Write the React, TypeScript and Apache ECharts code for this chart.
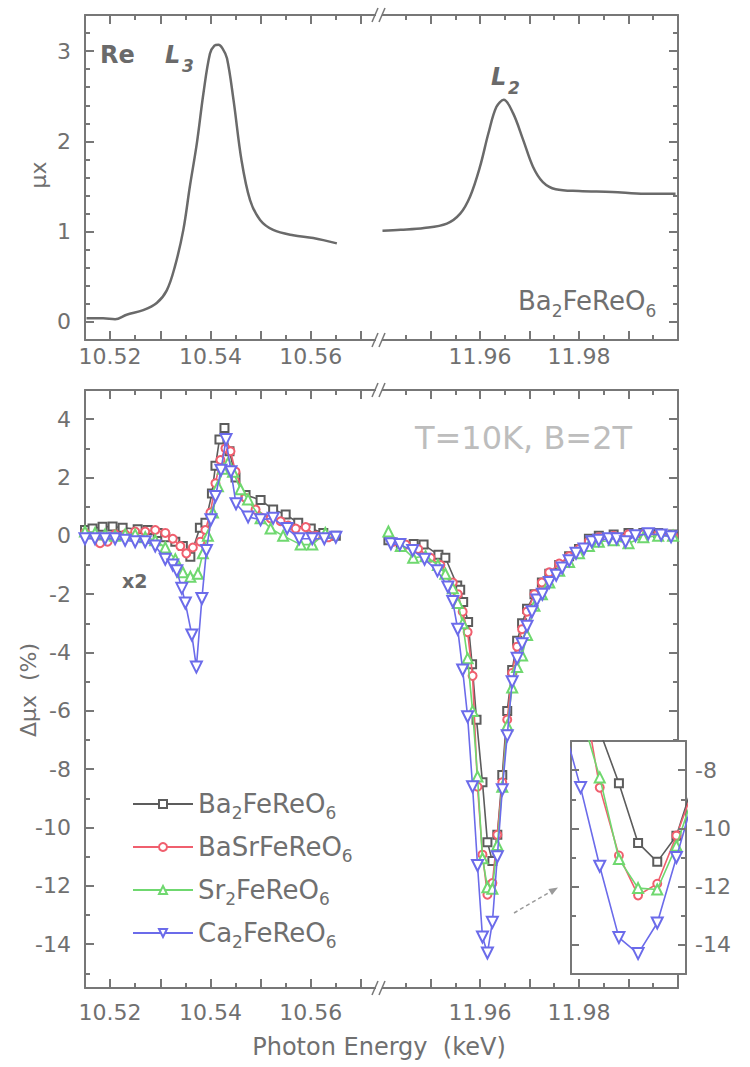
import React, { useEffect, useRef } from "react";
import * as echarts from "echarts";

const FONT = "'DejaVu Sans', Verdana, sans-serif";
const AXIS_COLOR = "#777777";
const LABEL_COLOR = "#707070";

// ---------- Top panel: Re L-edge absorption of Ba2FeReO6 ----------
const muL3Energy = [10.5153, 10.5186, 10.521, 10.5233, 10.5266, 10.5293, 10.5313, 10.5329, 10.5346, 10.5359, 10.5373, 10.5386, 10.5399, 10.5408, 10.5416, 10.5424, 10.5433, 10.5446, 10.5462, 10.5479, 10.5499, 10.5525, 10.5565, 10.5605, 10.5652];
const muL3Value = [0.04, 0.04, 0.03, 0.08, 0.13, 0.21, 0.35, 0.61, 1.02, 1.5, 1.98, 2.53, 2.97, 3.06, 3.07, 3.03, 2.92, 2.46, 1.79, 1.35, 1.13, 1.02, 0.96, 0.93, 0.87];
const muL2Energy = [11.9403, 11.944, 11.9487, 11.9533, 11.956, 11.958, 11.96, 11.9617, 11.9633, 11.9648, 11.9667, 11.9687, 11.9707, 11.9727, 11.9753, 11.98, 11.9867, 11.9933, 11.9995];
const muL2Value = [1.01, 1.02, 1.04, 1.09, 1.2, 1.39, 1.72, 2.09, 2.38, 2.46, 2.31, 2.02, 1.72, 1.55, 1.47, 1.45, 1.44, 1.42, 1.42];

// ---------- Bottom panel: XMCD (Δμx, %) ----------
const compoundNames = ["Ba2FeReO6", "BaSrFeReO6", "Sr2FeReO6", "Ca2FeReO6"];
const compoundLabels = ["Ba{s|2}FeReO{s|6}", "BaSrFeReO{s|6}", "Sr{s|2}FeReO{s|6}", "Ca{s|2}FeReO{s|6}"];
const compoundColors = ["#5c5c5c", "#f05f6e", "#6fd86f", "#6b6bea"];
const compoundSymbols = ["emptyRect", "emptyCircle", "emptyTriangle", "emptyTriangle"];
const compoundRotate = [0, 0, 0, 180];
const compoundSizes = [8, 8, 10, 11];

const baL3Energy = [10.515, 10.5165, 10.5185, 10.5205, 10.5225, 10.5255, 10.5275, 10.5295, 10.531, 10.533, 10.5345, 10.536, 10.5379, 10.539, 10.5403, 10.541, 10.5418, 10.5428, 10.5438, 10.545, 10.547, 10.55, 10.5525, 10.555, 10.5575, 10.56, 10.5625, 10.565];
const baL3Value = [0.2, 0.25, 0.31, 0.32, 0.28, 0.23, 0.2, 0.1, -0.05, -0.2, -0.35, -0.72, 0.28, 0.45, 1.45, 2.4, 3.3, 3.7, 2.9, 2.0, 1.4, 1.23, 0.9, 0.73, 0.45, 0.25, 0.1, 0.0];
const srbaL3Energy = [10.515, 10.517, 10.518, 10.5195, 10.521, 10.523, 10.525, 10.527, 10.529, 10.531, 10.5325, 10.534, 10.5352, 10.5365, 10.538, 10.539, 10.54, 10.541, 10.542, 10.543, 10.544, 10.545, 10.547, 10.549, 10.552, 10.554, 10.5555, 10.557, 10.559, 10.561, 10.5635];
const srbaL3Value = [0.1, 0.0, -0.25, -0.2, 0.05, 0.05, 0.15, 0.15, 0.2, 0.1, -0.1, -0.35, -0.6, -0.4, -0.2, 0.2, 0.8, 1.8, 2.6, 3.0, 2.9, 2.2, 1.3, 0.9, 0.6, 0.5, 0.35, 0.25, 0.3, 0.0, -0.05];
const srL3Energy = [10.515, 10.517, 10.519, 10.521, 10.523, 10.525, 10.527, 10.529, 10.531, 10.533, 10.5345, 10.536, 10.5375, 10.5385, 10.5395, 10.5405, 10.5415, 10.5425, 10.5435, 10.5445, 10.546, 10.5475, 10.55, 10.552, 10.5545, 10.558, 10.5603, 10.5629];
const srL3Value = [0.15, 0.1, 0.05, 0.0, 0.05, 0.05, -0.05, -0.15, -0.4, -0.8, -1.25, -1.4, -1.3, -0.6, 0.0, 0.8, 1.7, 2.3, 2.5, 2.2, 1.6, 1.25, 0.6, 0.25, 0.0, -0.3, -0.3, 0.1];
const caL3Energy = [10.515, 10.517, 10.519, 10.521, 10.523, 10.525, 10.527, 10.529, 10.531, 10.5325, 10.5333, 10.5343, 10.535, 10.5363, 10.5372, 10.5383, 10.5392, 10.5401, 10.541, 10.5421, 10.5431, 10.5441, 10.5451, 10.5475, 10.55, 10.5525, 10.5553, 10.5577, 10.5603, 10.5627, 10.565];
const caL3Value = [-0.1, -0.1, -0.1, -0.1, -0.15, -0.2, -0.2, -0.35, -0.8, -1.0, -1.2, -1.8, -2.3, -3.4, -4.5, -2.15, -0.5, 0.55, 1.35, 2.25, 3.3, 2.2, 1.1, 0.65, 0.55, 0.6, 0.25, -0.1, -0.1, -0.1, -0.05];

const baL2Energy = [11.9415, 11.944, 11.9466, 11.9486, 11.9516, 11.953, 11.9554, 11.956, 11.9566, 11.9576, 11.9584, 11.9593, 11.9605, 11.9615, 11.9625, 11.9635, 11.9645, 11.9655, 11.9665, 11.9675, 11.9685, 11.9695, 11.971, 11.9725, 11.974, 11.976, 11.978, 11.98, 11.982, 11.984, 11.987, 11.99, 11.993, 11.996, 11.999];
const baL2Value = [-0.15, -0.25, -0.28, -0.3, -0.65, -0.75, -1.7, -1.85, -2.27, -2.95, -4.4, -6.3, -8.45, -10.5, -11.15, -10.25, -8.2, -6.0, -4.6, -3.6, -3.0, -2.5, -2.0, -1.6, -1.3, -1.0, -0.7, -0.45, -0.1, 0.0, 0.05, 0.1, 0.1, 0.1, 0.05];
const srbaL2Energy = [11.9425, 11.945, 11.9475, 11.95, 11.952, 11.9545, 11.9555, 11.9565, 11.9575, 11.9585, 11.9595, 11.9605, 11.9615, 11.9625, 11.9635, 11.9645, 11.9655, 11.9665, 11.9675, 11.9685, 11.9695, 11.971, 11.9725, 11.974, 11.976, 11.978, 11.98, 11.982, 11.984, 11.987, 11.99, 11.993, 11.996, 11.999];
const srbaL2Value = [-0.2, -0.3, -0.45, -0.75, -1.0, -1.6, -2.0, -2.6, -3.3, -4.8, -8.6, -10.93, -12.3, -11.9, -10.25, -8.45, -6.3, -4.7, -3.8, -3.2, -2.6, -2.0, -1.6, -1.25, -0.95, -0.7, -0.45, -0.2, -0.05, 0.0, 0.05, 0.05, 0.05, 0.0];
const srL2Energy = [11.9415, 11.944, 11.9465, 11.949, 11.9515, 11.953, 11.9545, 11.9555, 11.9565, 11.9575, 11.9585, 11.9595, 11.9605, 11.9615, 11.9625, 11.9635, 11.9645, 11.9655, 11.9665, 11.9675, 11.9685, 11.9695, 11.971, 11.9725, 11.974, 11.976, 11.978, 11.98, 11.982, 11.984, 11.987, 11.99, 11.993, 11.996, 11.999];
const srL2Value = [0.15, -0.35, -0.75, -0.7, -1.0, -1.3, -1.8, -2.3, -3.0, -4.2, -6.0, -8.25, -11.05, -12.05, -12.1, -10.6, -8.6, -6.5, -5.2, -4.5, -4.1, -3.4, -2.4, -2.0, -1.6, -1.2, -0.9, -0.6, -0.35, -0.2, -0.15, -0.25, -0.05, 0.0, 0.0];
const caL2Energy = [11.942, 11.9438, 11.9464, 11.9488, 11.9514, 11.9535, 11.9545, 11.9555, 11.9565, 11.9575, 11.9585, 11.9595, 11.9605, 11.9615, 11.9625, 11.9635, 11.9645, 11.9655, 11.9665, 11.9675, 11.9685, 11.9695, 11.9705, 11.9715, 11.9726, 11.974, 11.9754, 11.9766, 11.978, 11.9794, 11.981, 11.9826, 11.984, 11.986, 11.9876, 11.9894, 11.9914, 11.994, 11.9966, 11.9986];
const caL2Value = [-0.27, -0.3, -0.5, -0.8, -1.2, -1.75, -2.25, -3.2, -4.6, -6.2, -8.6, -11.3, -13.75, -14.3, -13.25, -11.0, -8.7, -6.85, -5.0, -4.2, -3.7, -3.1, -2.6, -2.2, -2.0, -1.6, -1.35, -1.1, -0.85, -0.6, -0.45, -0.2, -0.15, -0.1, -0.1, -0.2, 0.0, 0.07, 0.03, -0.03];

const l3Energies = [baL3Energy, srbaL3Energy, srL3Energy, caL3Energy];
const l3Values = [baL3Value, srbaL3Value, srL3Value, caL3Value];
const l2Energies = [baL2Energy, srbaL2Energy, srL2Energy, caL2Energy];
const l2Values = [baL2Value, srbaL2Value, srL2Value, caL2Value];

// ---------- Axes ranges, ticks, labels ----------
const l3Range = [10.515, 10.574];
const l2Range = [11.94, 12.0];
const l3TickLabels = [10.52, 10.54, 10.56];
const l2TickLabels = [11.96, 11.98];
const muRange = [-0.2, 3.4];
const muTickLabels = [0, 1, 2, 3];
const dmuRange = [-15.5, 5];
const dmuTickLabels = [-14, -12, -10, -8, -6, -4, -2, 0, 2, 4];
const insetXRange = [11.958, 11.964];
const insetYRange = [-15, -7];
const insetTickLabels = [-14, -12, -10, -8];

// tick sets: [from, to, interval]
const l3MajorTickSet = [10.52, 10.57, 0.01];
const l3MinorTickSet = [10.525, 10.565, 0.01];
const l2MajorTickSet = [11.95, 11.99, 0.01];
const l2MinorTickSet = [11.945, 11.995, 0.01];
const muMajorTickSet = [0, 3, 1];
const muMinorTickSet = [0.2, 3.2, 0.2];
const dmuMajorTickSet = [-14, 4, 2];
const dmuMinorTickSet = [-15, 3, 2];
const insetMajorTickSet = [-14, -8, 2];
const insetMinorTickSet = [-13, -9, 2];

const fmtX = (v: number) => v.toFixed(2);
const fmtY = (v: number) => String(v);

function mainAxis(grid: number, range: number[], position: string, labels: number[] | null, margin: number, fmt: any, z = 0) {
  return {
    type: "value",
    gridIndex: grid,
    min: range[0],
    max: range[1],
    position,
    z,
    splitLine: { show: false },
    axisLine: { show: true, onZero: false, lineStyle: { color: AXIS_COLOR, width: 2 } },
    axisTick: { show: false },
    axisLabel: labels
      ? { show: true, customValues: labels, margin, color: LABEL_COLOR, fontSize: 22, fontFamily: FONT, formatter: fmt }
      : { show: false },
  };
}

type MainGrid = { left: number; top: number; width: number; height: number; xr: number[]; yr: number[] };

function buildOption() {
  const G: MainGrid[] = [
    { left: 85, top: 15, width: 296, height: 325, xr: l3Range, yr: muRange },
    { left: 381, top: 15, width: 297, height: 325, xr: l2Range, yr: muRange },
    { left: 85, top: 390, width: 296, height: 598, xr: l3Range, yr: dmuRange },
    { left: 381, top: 390, width: 297, height: 598, xr: l2Range, yr: dmuRange },
    { left: 571, top: 741, width: 115, height: 233, xr: insetXRange, yr: insetYRange },
  ];
  const grids: any[] = G.map((g) => ({ left: g.left, top: g.top, width: g.width, height: g.height }));
  const xAxes: any[] = [];
  const yAxes: any[] = [];
  const addX = (a: any) => (xAxes.push(a), xAxes.length - 1);
  const addY = (a: any) => (yAxes.push(a), yAxes.length - 1);

  // main frames and labels
  const x0 = addX(mainAxis(0, l3Range, "bottom", l3TickLabels, 5, fmtX));
  addX(mainAxis(0, l3Range, "top", null, 0, null));
  const y0 = addY(mainAxis(0, muRange, "left", muTickLabels, 14, fmtY));
  const x1 = addX(mainAxis(1, l2Range, "bottom", l2TickLabels, 5, fmtX));
  addX(mainAxis(1, l2Range, "top", null, 0, null));
  const y1 = addY(mainAxis(1, muRange, "right", null, 0, null));
  const x2 = addX(mainAxis(2, l3Range, "bottom", l3TickLabels, 13, fmtX));
  addX(mainAxis(2, l3Range, "top", null, 0, null));
  const y2 = addY(mainAxis(2, dmuRange, "left", dmuTickLabels, 14, fmtY));
  const x3 = addX(mainAxis(3, l2Range, "bottom", l2TickLabels, 13, fmtX));
  addX(mainAxis(3, l2Range, "top", null, 0, null));
  const y3 = addY(mainAxis(3, dmuRange, "right", null, 0, null));
  const x4 = addX(mainAxis(4, insetXRange, "bottom", null, 0, null, 4));
  addX(mainAxis(4, insetXRange, "top", null, 0, null, 4));
  const y4 = addY(mainAxis(4, insetYRange, "right", insetTickLabels, 9, fmtY, 4));
  addY(mainAxis(4, insetYRange, "left", null, 0, null, 4));

  // Tick marks: thin tick-only grids sharing a main grid's scale; their split lines are the ticks.
  const tickAxis = (grid: number, set: number[], z: number) => ({
    type: "value",
    gridIndex: grid,
    min: set[0],
    max: set[1],
    interval: set[2],
    z,
    axisLine: { show: false, onZero: false },
    axisTick: { show: false },
    axisLabel: { show: false },
    splitLine: { show: true, showMinLine: true, showMaxLine: true, lineStyle: { color: AXIS_COLOR, width: 2 } },
  });
  const hidden = (grid: number) => ({ type: "value", gridIndex: grid, min: 0, max: 1, show: false, splitLine: { show: false } });
  const addTicks = (gi: number, dim: "x" | "y", set: number[], side: string, len: number, z = 0) => {
    const g = G[gi];
    const idx = grids.length;
    if (dim === "x") {
      const l = g.left + ((set[0] - g.xr[0]) / (g.xr[1] - g.xr[0])) * g.width;
      const r = g.left + ((set[1] - g.xr[0]) / (g.xr[1] - g.xr[0])) * g.width;
      const top = side === "bottom" ? g.top + g.height - len : g.top;
      grids.push({ left: l, width: r - l, top, height: len });
      addX(tickAxis(idx, set, z));
      addY(hidden(idx));
    } else {
      const t = g.top + ((g.yr[1] - set[1]) / (g.yr[1] - g.yr[0])) * g.height;
      const b = g.top + ((g.yr[1] - set[0]) / (g.yr[1] - g.yr[0])) * g.height;
      const left = side === "left" ? g.left : g.left + g.width - len;
      grids.push({ left, width: len, top: t, height: b - t });
      addY(tickAxis(idx, set, z));
      addX(hidden(idx));
    }
  };
  const LONG = 9;
  const SHORT = 5;
  const xSets: [number, number[], number[]][] = [
    [0, l3MajorTickSet, l3MinorTickSet],
    [1, l2MajorTickSet, l2MinorTickSet],
    [2, l3MajorTickSet, l3MinorTickSet],
    [3, l2MajorTickSet, l2MinorTickSet],
  ];
  xSets.forEach(([gi, maj, min]) => {
    ["bottom", "top"].forEach((side) => {
      addTicks(gi, "x", maj, side, LONG);
      addTicks(gi, "x", min, side, SHORT);
    });
  });
  addTicks(0, "y", muMajorTickSet, "left", LONG);
  addTicks(0, "y", muMinorTickSet, "left", SHORT);
  addTicks(1, "y", muMajorTickSet, "right", LONG);
  addTicks(1, "y", muMinorTickSet, "right", SHORT);
  addTicks(2, "y", dmuMajorTickSet, "left", LONG);
  addTicks(2, "y", dmuMinorTickSet, "left", SHORT);
  addTicks(3, "y", dmuMajorTickSet, "right", LONG);
  addTicks(3, "y", dmuMinorTickSet, "right", SHORT);
  ["left", "right"].forEach((side) => {
    addTicks(4, "y", insetMajorTickSet, side, 8, 6);
    addTicks(4, "y", insetMinorTickSet, side, 5, 6);
  });

  const series: any[] = [];
  const topLine = (E: number[], V: number[], xi: number, yi: number) => ({
    type: "line",
    name: "mu",
    xAxisIndex: xi,
    yAxisIndex: yi,
    data: E.map((e, i) => [e, V[i]]),
    smooth: 0.35,
    showSymbol: false,
    symbol: "none",
    lineStyle: { color: "#6a6a6a", width: 2.5 },
    itemStyle: { color: "#6a6a6a" },
  });
  series.push(topLine(muL3Energy, muL3Value, x0, y0));
  series.push(topLine(muL2Energy, muL2Value, x1, y1));

  const mk = (k: number, E: number[], V: number[], xi: number, yi: number, z: number) => ({
    type: "line",
    name: compoundNames[k],
    xAxisIndex: xi,
    yAxisIndex: yi,
    data: E.map((e, i) => [e, V[i]]),
    symbol: compoundSymbols[k],
    symbolRotate: compoundRotate[k],
    symbolSize: compoundSizes[k],
    showSymbol: true,
    clip: true,
    z,
    lineStyle: { color: compoundColors[k], width: 1.6 },
    itemStyle: { color: compoundColors[k], borderWidth: 1.5 },
  });
  for (let k = 0; k < 4; k++) {
    series.push(mk(k, l3Energies[k], l3Values[k], x2, y2, 2 + k * 0.1));
    series.push(mk(k, l2Energies[k], l2Values[k], x3, y3, 2 + k * 0.1));
  }
  for (let k = 0; k < 4; k++) {
    series.push(mk(k, l2Energies[k], l2Values[k], x4, y4, 5 + k * 0.1));
  }

  const txt = (text: string, x: number, y: number, font: any, extra: any = {}) => {
    const style: any = {
      text,
      fill: font.fill ?? LABEL_COLOR,
      fontSize: font.size,
      fontFamily: font.family ?? FONT,
      fontWeight: font.weight ?? "normal",
      fontStyle: font.style ?? "normal",
      textAlign: font.align ?? "left",
      textVerticalAlign: "middle",
    };
    if (font.lineHeight) style.lineHeight = font.lineHeight;
    if (font.rich) style.rich = font.rich;
    return { type: "text", x, y, z: 20, ...extra, style };
  };

  const subRich = {
    s: { fontSize: 17, lineHeight: 17, verticalAlign: "bottom", fontFamily: FONT, fill: LABEL_COLOR },
  };

  const breakMarks: any[] = [];
  [15, 340, 390, 988].forEach((y) => {
    const xb = 381;
    breakMarks.push({ type: "rect", z: 20, shape: { x: xb - 5, y: y - 2, width: 6, height: 4 }, style: { fill: "#ffffff" } });
    breakMarks.push({ type: "line", z: 21, shape: { x1: xb - 9, y1: y + 7, x2: xb - 3, y2: y - 7 }, style: { stroke: AXIS_COLOR, lineWidth: 1.5 } });
    breakMarks.push({ type: "line", z: 21, shape: { x1: xb - 2, y1: y + 7, x2: xb + 4, y2: y - 7 }, style: { stroke: AXIS_COLOR, lineWidth: 1.5 } });
  });

  const graphic = [
    // white backing of the inset (keeps main right-axis ticks from showing through)
    { type: "rect", z: 3, shape: { x: 571, y: 741, width: 115, height: 233 }, style: { fill: "#ffffff" } },
    txt("Re", 100, 55, { size: 24, weight: "bold", fill: "#6a6a6a" }),
    txt("L", 165, 55, { size: 24, weight: "bold", style: "italic", fill: "#6a6a6a" }),
    txt("3", 182, 66, { size: 17, weight: "bold", style: "italic", fill: "#6a6a6a" }),
    txt("L", 491, 77, { size: 24, weight: "bold", style: "italic", fill: "#6a6a6a" }),
    txt("2", 508, 88, { size: 17, weight: "bold", style: "italic", fill: "#6a6a6a" }),
    txt("Ba{s|2}FeReO{s|6}", 518, 301, { size: 26, lineHeight: 36, rich: subRich }),
    txt("T=10K, B=2T", 415, 438, { size: 32, fill: "#bdbdbd" }),
    txt("x2", 122, 581, { size: 19, weight: "bold", fill: "#6a6a6a" }),
    txt("μx", 38, 175, { size: 22, align: "center" }, { rotation: Math.PI / 2 }),
    txt("Δμx  (%)", 28, 690, { size: 22, align: "center" }, { rotation: Math.PI / 2 }),
    txt("Photon Energy  (keV)", 379, 1047, { size: 24, align: "center" }),
    ...breakMarks,
    {
      type: "line",
      z: 20,
      shape: { x1: 514, y1: 913, x2: 550, y2: 892 },
      style: { stroke: "#9a9a9a", lineWidth: 1.5, lineDash: [4, 3] },
    },
    {
      type: "polygon",
      z: 20,
      shape: { points: [[558, 887.5], [548.4, 889], [552, 895]] },
      style: { fill: "#9a9a9a" },
    },
  ];

  return {
    animation: false,
    backgroundColor: "#ffffff",
    grid: grids,
    xAxis: xAxes,
    yAxis: yAxes,
    series,
    graphic,
    legend: {
      data: compoundNames,
      orient: "vertical",
      left: 127,
      top: 782,
      itemWidth: 60,
      itemHeight: 10,
      itemGap: 9,
      selectedMode: false,
      formatter: (n: string) => compoundLabels[compoundNames.indexOf(n)],
      textStyle: {
        color: LABEL_COLOR,
        fontSize: 26,
        fontFamily: FONT,
        lineHeight: 34,
        rich: {
          s: { fontSize: 17, lineHeight: 17, verticalAlign: "bottom", color: LABEL_COLOR, fontFamily: FONT },
        },
      },
    },
  };
}

export default function App() {
  const ref = useRef<HTMLDivElement>(null);
  useEffect(() => {
    if (!ref.current) return;
    const chart = echarts.init(ref.current, undefined, { renderer: "svg" });
    chart.setOption(buildOption() as any);
    return () => chart.dispose();
  }, []);
  return (
    <div
      ref={ref}
      style={{ position: "fixed", left: 0, top: 0, width: 750, height: 1067, background: "#fff" }}
    />
  );
}
